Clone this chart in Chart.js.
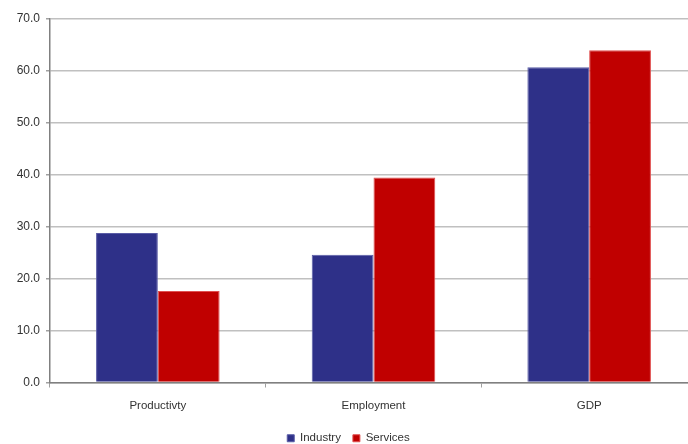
<!DOCTYPE html>
<html>
<head>
<meta charset="utf-8">
<script src="https://cdn.jsdelivr.net/npm/chart.js@4/dist/chart.umd.min.js"></script>
<style>
  html, body { margin: 0; padding: 0; background: #fff; overflow: hidden; }
  #wrap { width: 718px; height: 454px; }
</style>
</head>
<body>
<div id="wrap"><canvas id="chart"></canvas></div>
<script>
const categories = ['Productivty', 'Employment', 'GDP'];
const industry = [28.8, 24.6, 60.7];
const services = [17.6, 39.5, 64.0];
const yTicks = [0, 10, 20, 30, 40, 50, 60, 70];

const family = '"Liberation Sans", Arial, sans-serif';

new Chart(document.getElementById('chart'), {
  type: 'bar',
  data: {
    labels: categories,
    datasets: [
      {
        label: 'Industry',
        data: industry,
        backgroundColor: '#2E3088',
        borderColor: '#5A5CA6',
        borderWidth: 1
      },
      {
        label: 'Services',
        data: services,
        backgroundColor: '#C00000',
        borderColor: '#E05050',
        borderWidth: 1
      }
    ]
  },
  options: {
    responsive: true,
    maintainAspectRatio: false,
    animation: false,
    layout: { padding: { top: 19, right: 21, bottom: 0, left: 0 } },
    datasets: {
      bar: { categoryPercentage: 0.573, barPercentage: 1.0 }
    },
    scales: {
      x: {
        grid: { drawOnChartArea: false, drawTicks: true, tickLength: 5, color: '#A0A0A0', offset: true },
        border: { color: '#808080', width: 1.5 },
        ticks: { color: '#333', font: { family: family, size: 11.5 }, padding: 11 },
        afterFit: (s) => { s.height = 38; }
      },
      y: {
        min: 0,
        max: 70,
        afterBuildTicks: (s) => { s.ticks = yTicks.map(v => ({ value: v })); },
        grid: { color: '#C0C0C0', lineWidth: 1.5, tickLength: 4, tickColor: '#A0A0A0' },
        border: { color: '#808080', width: 1.5 },
        ticks: { color: '#333', font: { family: family, size: 12 }, padding: 6, callback: (v) => v.toFixed(1) },
        afterFit: (s) => { s.width = 50; }
      }
    },
    plugins: {
      legend: {
        position: 'bottom',
        labels: { boxWidth: 7, boxHeight: 7, color: '#333', font: { family: family, size: 11.5 }, padding: 12 }
      },
      tooltip: { enabled: false }
    }
  }
});
</script>
</body>
</html>
